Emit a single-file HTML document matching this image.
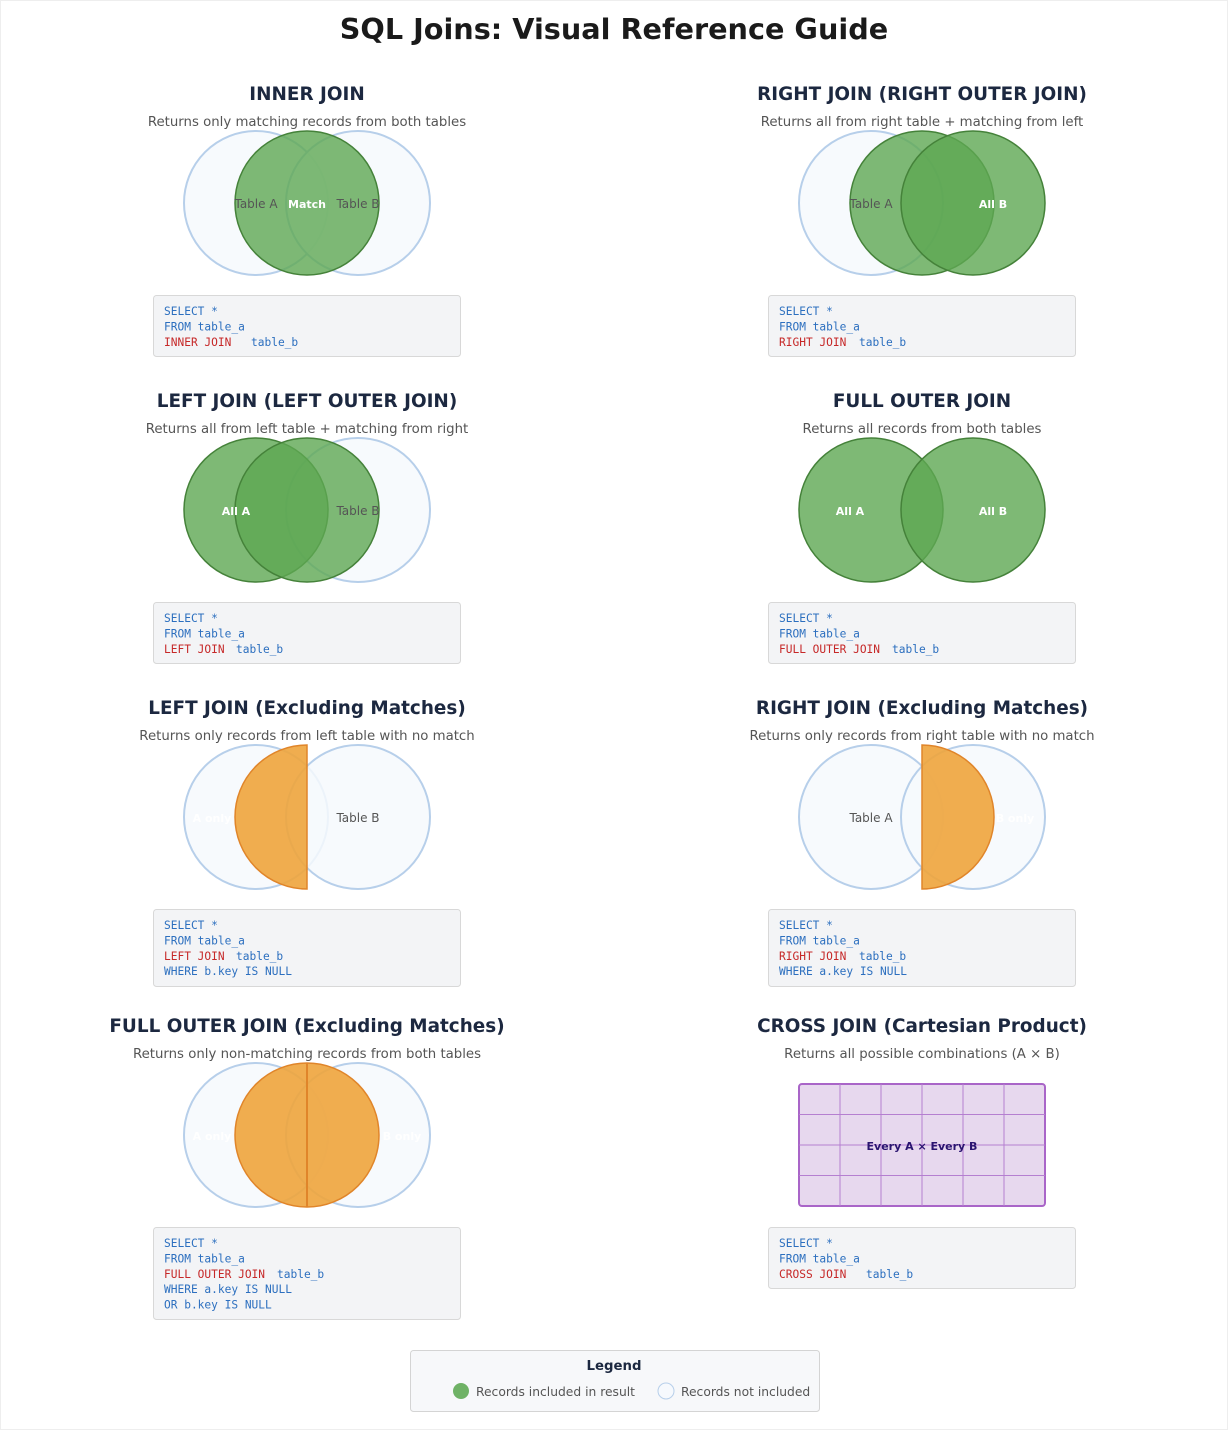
<!DOCTYPE html>
<html><head><meta charset="utf-8"><style>
html,body{margin:0;padding:0;background:#fff;}
svg{display:block;font-family:"DejaVu Sans","Liberation Sans",sans-serif;}
.t{font-size:18.4px;font-weight:bold;fill:#1c2840;text-anchor:middle;}
.s{font-size:13.3px;fill:#555;text-anchor:middle;}
.bl{fill:#f6f9fd;fill-opacity:0.85;stroke:#b7cfea;stroke-width:2;}
.gr{fill:#5ea852;fill-opacity:0.8;stroke:#45823a;stroke-width:1.5;}
.or{fill:#eea43c;fill-opacity:0.9;stroke:#e0852a;stroke-width:1.5;}
.lbl{font-size:12px;fill:#555;text-anchor:middle;}
.wl{font-size:11px;font-weight:bold;fill:#fff;text-anchor:middle;}
.cb{fill:#f3f4f6;stroke:#d8d8d8;stroke-width:1;}
.c{font-family:"DejaVu Sans Mono","Liberation Mono",monospace;font-size:11.2px;}
.k{fill:#2c6fbf}.r{fill:#c62828}
</style></head><body>
<svg width="1228" height="1430" viewBox="0 0 1228 1430">
<rect x="0.5" y="0.5" width="1227" height="1429" fill="#fff" stroke="#eee"/>
<text x="614" y="39" text-anchor="middle" font-size="28.7" font-weight="bold" fill="#1a1a1a">SQL Joins: Visual Reference Guide</text>

<!-- INNER -->
<text class="t" x="307" y="100">INNER JOIN</text>
<text class="s" x="307" y="126">Returns only matching records from both tables</text>
<circle class="bl" cx="256" cy="203" r="72"/><circle class="bl" cx="358" cy="203" r="72"/>
<circle class="gr" cx="307" cy="203" r="72"/>
<text class="lbl" x="256" y="208">Table A</text><text class="lbl" x="358" y="208">Table B</text><text class="wl" x="307" y="208">Match</text>
<rect class="cb" x="153.5" y="295.5" width="307" height="61" rx="3"/>
<g class="c"><text class="k" x="164" y="315">SELECT *</text><text class="k" x="164" y="330.4">FROM table_a</text><text class="r" x="164" y="345.8">INNER JOIN</text><text class="k" x="251" y="345.8">table_b</text></g>

<!-- RIGHT -->
<text class="t" x="922" y="100">RIGHT JOIN (RIGHT OUTER JOIN)</text>
<text class="s" x="922" y="126">Returns all from right table + matching from left</text>
<circle class="bl" cx="871" cy="203" r="72"/>
<circle class="gr" cx="922" cy="203" r="72"/><circle class="gr" cx="973" cy="203" r="72"/>
<text class="lbl" x="871" y="208">Table A</text><text class="wl" x="993" y="208">All B</text>
<rect class="cb" x="768.5" y="295.5" width="307" height="61" rx="3"/>
<g class="c"><text class="k" x="779" y="315">SELECT *</text><text class="k" x="779" y="330.4">FROM table_a</text><text class="r" x="779" y="345.8">RIGHT JOIN</text><text class="k" x="859" y="345.8">table_b</text></g>

<!-- LEFT -->
<text class="t" x="307" y="407">LEFT JOIN (LEFT OUTER JOIN)</text>
<text class="s" x="307" y="433">Returns all from left table + matching from right</text>
<circle class="bl" cx="358" cy="510" r="72"/>
<circle class="gr" cx="256" cy="510" r="72"/><circle class="gr" cx="307" cy="510" r="72"/>
<text class="wl" x="236" y="515">All A</text><text class="lbl" x="358" y="515">Table B</text>
<rect class="cb" x="153.5" y="602.5" width="307" height="61" rx="3"/>
<g class="c"><text class="k" x="164" y="622">SELECT *</text><text class="k" x="164" y="637.4">FROM table_a</text><text class="r" x="164" y="652.8">LEFT JOIN</text><text class="k" x="236" y="652.8">table_b</text></g>

<!-- FULL OUTER -->
<text class="t" x="922" y="407">FULL OUTER JOIN</text>
<text class="s" x="922" y="433">Returns all records from both tables</text>
<circle class="gr" cx="871" cy="510" r="72"/><circle class="gr" cx="973" cy="510" r="72"/>
<text class="wl" x="850" y="515">All A</text><text class="wl" x="993" y="515">All B</text>
<rect class="cb" x="768.5" y="602.5" width="307" height="61" rx="3"/>
<g class="c"><text class="k" x="779" y="622">SELECT *</text><text class="k" x="779" y="637.4">FROM table_a</text><text class="r" x="779" y="652.8">FULL OUTER JOIN</text><text class="k" x="892" y="652.8">table_b</text></g>

<!-- LEFT EXCL -->
<text class="t" x="307" y="714">LEFT JOIN (Excluding Matches)</text>
<text class="s" x="307" y="740">Returns only records from left table with no match</text>
<circle class="bl" cx="256" cy="817" r="72"/><circle class="bl" cx="358" cy="817" r="72"/>
<text class="wl" x="212" y="822" font-size="12">A only</text>
<path class="or" d="M307 745 A72 72 0 0 0 307 889 Z"/>
<text class="lbl" x="358" y="822">Table B</text>
<rect class="cb" x="153.5" y="909.5" width="307" height="77" rx="3"/>
<g class="c"><text class="k" x="164" y="929">SELECT *</text><text class="k" x="164" y="944.4">FROM table_a</text><text class="r" x="164" y="959.8">LEFT JOIN</text><text class="k" x="236" y="959.8">table_b</text><text class="k" x="164" y="975.2">WHERE b.key IS NULL</text></g>

<!-- RIGHT EXCL -->
<text class="t" x="922" y="714">RIGHT JOIN (Excluding Matches)</text>
<text class="s" x="922" y="740">Returns only records from right table with no match</text>
<circle class="bl" cx="871" cy="817" r="72"/><circle class="bl" cx="973" cy="817" r="72"/>
<text class="wl" x="1015" y="822" font-size="12">B only</text>
<path class="or" d="M922 745 A72 72 0 0 1 922 889 Z"/>
<text class="lbl" x="871" y="822">Table A</text>
<rect class="cb" x="768.5" y="909.5" width="307" height="77" rx="3"/>
<g class="c"><text class="k" x="779" y="929">SELECT *</text><text class="k" x="779" y="944.4">FROM table_a</text><text class="r" x="779" y="959.8">RIGHT JOIN</text><text class="k" x="859" y="959.8">table_b</text><text class="k" x="779" y="975.2">WHERE a.key IS NULL</text></g>

<!-- FULL OUTER EXCL -->
<text class="t" x="307" y="1032">FULL OUTER JOIN (Excluding Matches)</text>
<text class="s" x="307" y="1058">Returns only non-matching records from both tables</text>
<circle class="bl" cx="256" cy="1135" r="72"/><circle class="bl" cx="358" cy="1135" r="72"/>
<text class="wl" x="212" y="1140" font-size="12">A only</text><text class="wl" x="402" y="1140" font-size="12">B only</text>
<circle class="or" cx="307" cy="1135" r="72"/>
<line x1="307" y1="1063" x2="307" y2="1207" stroke="#e0852a" stroke-width="2"/>
<rect class="cb" x="153.5" y="1227.5" width="307" height="92" rx="3"/>
<g class="c"><text class="k" x="164" y="1247">SELECT *</text><text class="k" x="164" y="1262.4">FROM table_a</text><text class="r" x="164" y="1277.8">FULL OUTER JOIN</text><text class="k" x="277" y="1277.8">table_b</text><text class="k" x="164" y="1293.2">WHERE a.key IS NULL</text><text class="k" x="164" y="1308.6">OR b.key IS NULL</text></g>

<!-- CROSS -->
<text class="t" x="922" y="1032">CROSS JOIN (Cartesian Product)</text>
<text class="s" x="922" y="1058">Returns all possible combinations (A × B)</text>
<rect x="799" y="1084" width="246" height="122" rx="3" fill="#e7d8ee" stroke="#a965c8" stroke-width="2"/>
<g stroke="#b57fd0" stroke-width="1">
<line x1="840" y1="1084" x2="840" y2="1206"/><line x1="881" y1="1084" x2="881" y2="1206"/><line x1="922" y1="1084" x2="922" y2="1206"/><line x1="963" y1="1084" x2="963" y2="1206"/><line x1="1004" y1="1084" x2="1004" y2="1206"/>
<line x1="799" y1="1114.5" x2="1045" y2="1114.5"/><line x1="799" y1="1145" x2="1045" y2="1145"/><line x1="799" y1="1175.5" x2="1045" y2="1175.5"/>
</g>
<text x="922" y="1150" text-anchor="middle" font-size="11" font-weight="bold" fill="#2a1470">Every A × Every B</text>
<rect class="cb" x="768.5" y="1227.5" width="307" height="61" rx="3"/>
<g class="c"><text class="k" x="779" y="1247">SELECT *</text><text class="k" x="779" y="1262.4">FROM table_a</text><text class="r" x="779" y="1277.8">CROSS JOIN</text><text class="k" x="866" y="1277.8">table_b</text></g>

<!-- LEGEND -->
<rect x="410.5" y="1350.5" width="409" height="61" rx="3" fill="#f7f8fa" stroke="#d4d4d4"/>
<text x="614" y="1370" text-anchor="middle" font-size="13.3" font-weight="bold" fill="#1c2840">Legend</text>
<circle cx="461" cy="1391" r="8" fill="#6fb266"/>
<text x="476" y="1396" font-size="12.3" fill="#555">Records included in result</text>
<circle cx="666" cy="1391" r="8" fill="#f6f9fd" stroke="#b7cfea" stroke-width="1"/>
<text x="681" y="1396" font-size="12.3" fill="#555">Records not included</text>
</svg>
</body></html>
